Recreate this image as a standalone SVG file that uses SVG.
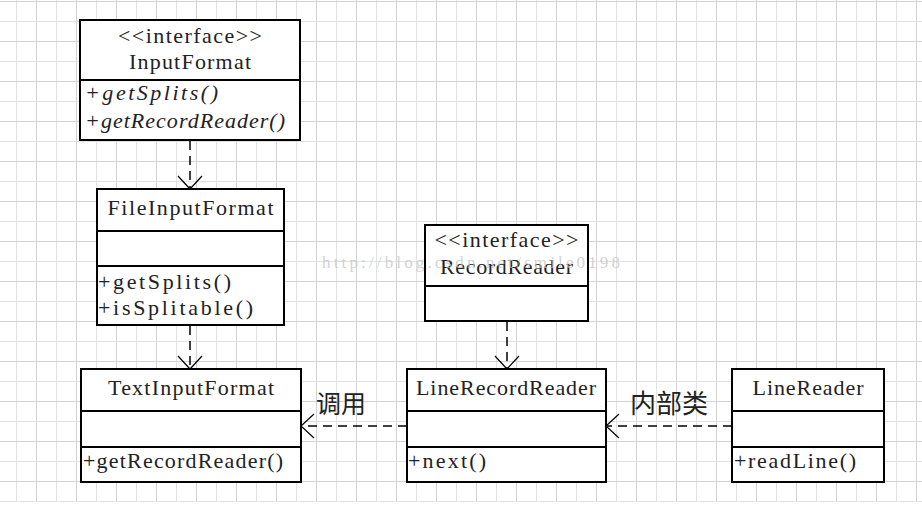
<svg xmlns="http://www.w3.org/2000/svg" width="922" height="506" viewBox="0 0 922 506">
<defs>
<pattern id="grid" patternUnits="userSpaceOnUse" x="0" y="0" width="40" height="40">
<line x1="16.5" y1="0" x2="16.5" y2="40" stroke="#e2e2e2" stroke-width="1"/>
<line x1="36.5" y1="0" x2="36.5" y2="40" stroke="#d2d2d2" stroke-width="1"/>
<line x1="0" y1="1.5" x2="40" y2="1.5" stroke="#d2d2d2" stroke-width="1"/>
<line x1="0" y1="21.5" x2="40" y2="21.5" stroke="#e2e2e2" stroke-width="1"/>
</pattern>
<marker id="open" markerUnits="userSpaceOnUse" viewBox="-16 -14 18 28" markerWidth="18" markerHeight="28" refX="0" refY="0" orient="auto">
<path d="M-13,-12 L0,0 L-13,12" fill="none" stroke="#000" stroke-width="1.2"/>
</marker>
</defs>
<style>
.box{fill:#fff;stroke:#000;stroke-width:2}
.div{stroke:#000;stroke-width:2}
.t{font-family:"Liberation Serif",serif;font-size:22px;fill:#222}
.c{text-anchor:middle}
.i{font-style:italic}
.dash{fill:none;stroke:#000;stroke-width:1.5;stroke-dasharray:9 6;marker-end:url(#open)}
.cjk{font-family:"Noto Sans CJK SC",sans-serif;fill:#222}
</style>
<rect x="0" y="0" width="922" height="506" fill="#fff"/>
<rect x="0" y="0" width="922" height="502" fill="url(#grid)"/>

<g id="connectors">
<line class="dash" x1="190" y1="141" x2="190" y2="189"/>
<line class="dash" x1="190" y1="326" x2="190" y2="369"/>
<line class="dash" x1="507" y1="322" x2="507" y2="369"/>
<line class="dash" x1="407" y1="426" x2="301" y2="426"/>
<line class="dash" x1="732" y1="426" x2="606" y2="426"/>
<text class="cjk" x="316" y="413" font-size="25">调用</text>
<text class="cjk" x="630" y="413" font-size="26">内部类</text>
</g>

<g id="InputFormat">
<rect class="box" x="80" y="20" width="220" height="120"/>
<line class="div" x1="80" y1="80" x2="300" y2="80"/>
<text class="t c" x="190" y="43" textLength="144" lengthAdjust="spacing">&lt;&lt;interface&gt;&gt;</text>
<text class="t c" x="190" y="69" textLength="122" lengthAdjust="spacing">InputFormat</text>
<text class="t i" x="85" y="100" textLength="133" lengthAdjust="spacing">+getSplits()</text>
<text class="t i" x="85" y="128" textLength="200" lengthAdjust="spacing">+getRecordReader()</text>
</g>

<g id="FileInputFormat">
<rect class="box" x="97" y="189" width="187" height="136"/>
<line class="div" x1="97" y1="231" x2="284" y2="231"/>
<line class="div" x1="97" y1="266" x2="284" y2="266"/>
<text class="t c" x="190.5" y="215" textLength="166" lengthAdjust="spacing">FileInputFormat</text>
<text class="t" x="98" y="289" textLength="133" lengthAdjust="spacing">+getSplits()</text>
<text class="t" x="98" y="315" textLength="155" lengthAdjust="spacing">+isSplitable()</text>
</g>

<g id="RecordReader">
<rect class="box" x="425" y="225" width="163" height="96"/>
<line class="div" x1="425" y1="286" x2="588" y2="286"/>
<text class="t c" x="506.5" y="247" textLength="144" lengthAdjust="spacing">&lt;&lt;interface&gt;&gt;</text>
<text class="t c" x="506.5" y="274" textLength="133" lengthAdjust="spacing">RecordReader</text>
</g>

<g id="TextInputFormat">
<rect class="box" x="81" y="369" width="220" height="113"/>
<line class="div" x1="81" y1="411" x2="301" y2="411"/>
<line class="div" x1="81" y1="447" x2="301" y2="447"/>
<text class="t c" x="191" y="395" textLength="166" lengthAdjust="spacing">TextInputFormat</text>
<text class="t" x="83" y="468" textLength="200" lengthAdjust="spacing">+getRecordReader()</text>
</g>

<g id="LineRecordReader">
<rect class="box" x="407" y="369" width="199" height="113"/>
<line class="div" x1="407" y1="411" x2="606" y2="411"/>
<line class="div" x1="407" y1="447" x2="606" y2="447"/>
<text class="t c" x="506" y="395" textLength="180" lengthAdjust="spacing">LineRecordReader</text>
<text class="t" x="408" y="468" textLength="78" lengthAdjust="spacing">+next()</text>
</g>

<g id="LineReader">
<rect class="box" x="732" y="369" width="152" height="113"/>
<line class="div" x1="732" y1="411" x2="884" y2="411"/>
<line class="div" x1="732" y1="447" x2="884" y2="447"/>
<text class="t c" x="808" y="395" textLength="111" lengthAdjust="spacing">LineReader</text>
<text class="t" x="734" y="468" textLength="122" lengthAdjust="spacing">+readLine()</text>
</g>

<text x="322" y="268" font-family="Liberation Serif,serif" font-size="17" fill="#c4c4c4" fill-opacity="0.75" textLength="298" lengthAdjust="spacing">http://blog.csdn.net/smile0198</text>
</svg>
